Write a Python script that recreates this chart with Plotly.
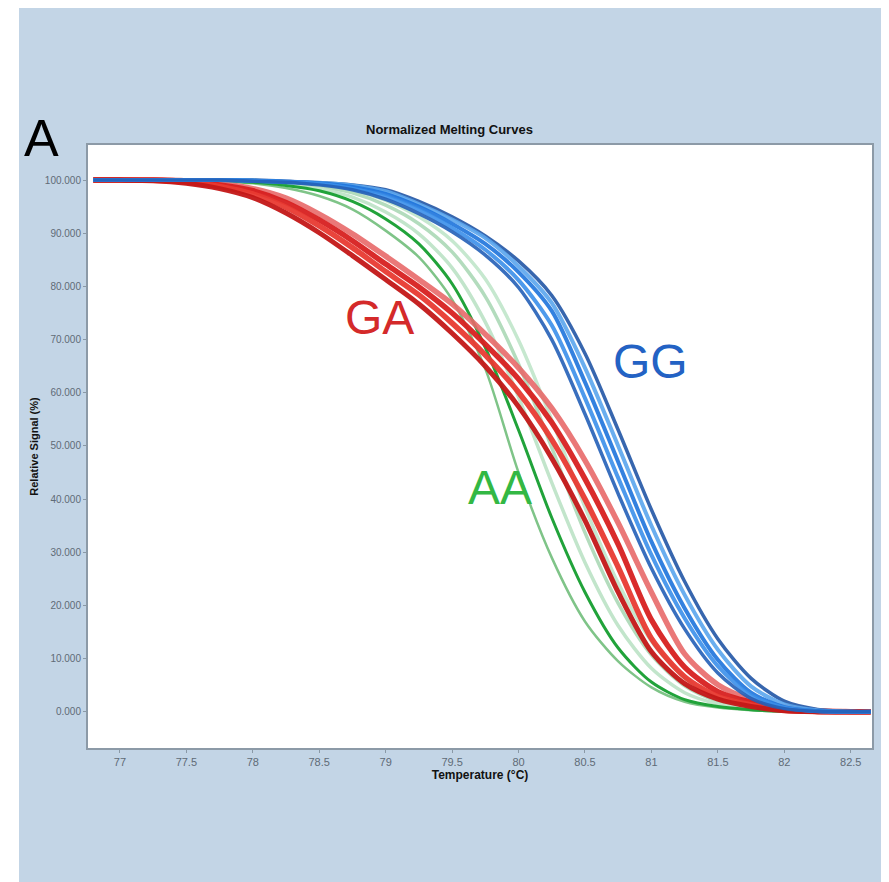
import plotly.graph_objects as go

# ---------------- data ----------------
temps = [76.8, 77.0, 77.25, 77.5, 77.75, 78.0, 78.25, 78.5, 78.75, 79.0, 79.25, 79.5,
         79.75, 80.0, 80.25, 80.5, 80.75, 81.0, 81.25, 81.5, 81.75, 82.0, 82.25, 82.5, 82.65]

# AA genotype (green)
aa_pale_1 = [100, 100, 100, 100, 100, 99.8, 99.4, 98.4, 96.8, 94.0, 89.9, 83.5, 73.3, 59.2, 43.1, 28.1, 16.2, 8.2, 3.6, 1.5, 0.6, 0.2, 0.04, 0, 0]
aa_pale_2 = [100, 100, 100, 100, 100, 99.8, 99.5, 98.8, 97.6, 95.3, 91.8, 86.5, 78.1, 65.4, 49.7, 33.7, 20.4, 10.7, 4.9, 2.0, 0.9, 0.3, 0.08, 0, 0]
aa_pale_3 = [100, 100, 100, 100, 100, 99.95, 99.6, 99.1, 98.1, 96.2, 93.1, 88.6, 81.4, 69.9, 54.9, 38.5, 24.2, 13.3, 6.4, 2.7, 1.2, 0.5, 0.14, 0.02, 0]
aa_left = [100, 100, 100, 100, 99.8, 99.4, 98.5, 97.0, 94.5, 90.5, 85.5, 77.5, 64.5, 45.0, 29.0, 17.0, 9.5, 4.6, 1.9, 0.8, 0.3, 0.1, 0, 0, 0]
aa_dark = [100, 100, 100, 100, 99.9, 99.6, 99.0, 98.0, 96.0, 92.7, 88.0, 80.5, 68.5, 53.0, 36.5, 22.5, 12.0, 5.6, 2.3, 1.0, 0.4, 0.1, 0, 0, 0]

# GA genotype (red)
ga_1 = [100, 100, 99.9, 99.4, 98.4, 96.7, 93.8, 90.1, 85.8, 81.3, 76.7, 71.2, 65.0, 57.4, 47.7, 36.0, 22.5, 11.3, 5.3, 2.4, 1.0, 0.2, 0.03, 0, 0]
ga_2 = [100, 100, 99.95, 99.6, 98.8, 97.4, 94.9, 91.4, 87.3, 82.8, 78.4, 73.1, 67.1, 60.1, 51.2, 40.0, 27.2, 13.8, 6.6, 2.9, 1.3, 0.3, 0.04, 0, 0]
ga_3 = [100, 100, 100, 99.75, 99.1, 98.0, 95.8, 92.5, 88.6, 84.2, 79.9, 75.0, 69.1, 62.6, 54.4, 43.8, 31.5, 17.3, 8.4, 3.8, 1.8, 0.6, 0.1, 0.01, 0]
ga_4 = [100, 100, 100, 99.85, 99.3, 98.4, 96.6, 93.6, 89.9, 85.7, 81.3, 76.7, 71.0, 64.7, 57.1, 47.3, 35.5, 22.5, 10.9, 5.1, 2.3, 0.9, 0.2, 0.03, 0]

# GG genotype (blue)
gg_1 = [100, 100, 100, 100, 100, 99.8, 99.6, 99.1, 98.2, 96.4, 93.7, 90.3, 85.9, 79.8, 70.0, 56.0, 41.0, 27.0, 15.6, 7.3, 2.5, 0.6, 0.1, 0, 0]
gg_2 = [100, 100, 100, 100, 100, 99.9, 99.6, 99.3, 98.4, 96.9, 94.4, 91.0, 86.9, 81.2, 72.7, 59.0, 44.0, 29.5, 17.6, 8.6, 3.1, 0.8, 0.1, 0, 0]
gg_3 = [100, 100, 100, 100, 100, 99.9, 99.7, 99.4, 98.7, 97.4, 95.0, 91.8, 88.0, 82.7, 75.4, 62.0, 47.0, 32.0, 19.5, 9.8, 3.6, 0.9, 0.15, 0, 0]
gg_4 = [100, 100, 100, 100, 100, 99.9, 99.7, 99.5, 99.0, 97.9, 95.5, 92.6, 89.1, 83.8, 76.9, 64.7, 50.0, 35.0, 22.0, 11.7, 4.8, 1.4, 0.3, 0, 0]
gg_5 = [100, 100, 100, 100, 100, 100, 99.8, 99.5, 99.1, 98.2, 96.0, 93.1, 89.5, 84.8, 78.3, 67.4, 53.0, 38.0, 24.5, 13.7, 6.3, 2.0, 0.45, 0.06, 0]

x_tick_values = [77, 77.5, 78, 78.5, 79, 79.5, 80, 80.5, 81, 81.5, 82, 82.5]
x_tick_labels = ["77", "77.5", "78", "78.5", "79", "79.5", "80", "80.5", "81", "81.5", "82", "82.5"]
y_tick_values = [0, 10, 20, 30, 40, 50, 60, 70, 80, 90, 100]
y_tick_labels = ["0.000", "10.000", "20.000", "30.000", "40.000", "50.000",
                 "60.000", "70.000", "80.000", "90.000", "100.000"]

# ---------------- figure ----------------
FONT = "Liberation Sans, Arial, sans-serif"
fig = go.Figure()

series = [
    (aa_pale_3, "#c6e8cf", 3.5, 1.0),
    (aa_pale_2, "#b3dcbd", 3.5, 1.0),
    (aa_pale_1, "#c2e5cb", 3.5, 1.0),
    (aa_left, "#7fc488", 2.5, 1.0),
    (aa_dark, "#21a33a", 3.0, 1.0),
    (ga_4, "#e86a6a", 5.5, 0.9),
    (ga_3, "#d82020", 5.5, 0.95),
    (ga_2, "#e83a32", 5.5, 0.95),
    (ga_1, "#c41818", 5.0, 0.95),
    (gg_5, "#2256a6", 3.5, 0.9),
    (gg_4, "#5aa6ee", 4.0, 0.9),
    (gg_3, "#1e74dc", 4.0, 0.9),
    (gg_2, "#3b90ea", 4.0, 0.9),
    (gg_1, "#2460b8", 3.5, 0.9),
]
for ys, color, w, op in series:
    fig.add_trace(go.Scatter(
        x=temps, y=ys, mode="lines",
        line=dict(color=color, width=w, shape="spline", smoothing=0.8),
        opacity=op, showlegend=False, hoverinfo="skip"))

# the page body adds an 8px white margin on the left and top
fig.update_layout(
    width=881, height=874,
    margin=dict(l=80, r=17, t=137, b=134),
    paper_bgcolor="#c3d5e6",
    plot_bgcolor="#ffffff",
    font=dict(family=FONT),
    xaxis=dict(
        range=[76.76, 82.66], tickvals=x_tick_values, ticktext=x_tick_labels,
        ticks="outside", ticklen=3, tickcolor="#8a99a6",
        showgrid=False, zeroline=False,
        showline=True, linecolor="#8c9aa7", linewidth=2, mirror=True,
        tickfont=dict(size=11, color="#5f6b76", family=FONT),
        title=dict(text="<b>Temperature (°C)</b>", font=dict(size=12, color="#111111", family=FONT), standoff=0),
    ),
    yaxis=dict(
        range=[-6.8, 106.6], tickvals=y_tick_values, ticktext=y_tick_labels,
        ticks="outside", ticklen=3, tickcolor="#8a99a6",
        showgrid=False, zeroline=False,
        showline=True, linecolor="#8c9aa7", linewidth=2, mirror=True,
        tickfont=dict(size=10, color="#5f6b76", family=FONT),
        title=dict(text="<b>Relative Signal (%)</b>", font=dict(size=11, color="#111111", family=FONT), standoff=4),
    ),
    shapes=[
        dict(type="rect", xref="paper", yref="paper", x0=-0.2, x1=-0.0880, y0=-0.3, y1=1.3,
             fillcolor="#ffffff", line=dict(width=0), layer="below"),
    ],
    annotations=[
        dict(text="<b>Normalized Melting Curves</b>", xref="paper", yref="paper", x=0.4617, y=1.0265,
             xanchor="center", yanchor="middle",
             showarrow=False, font=dict(size=13, color="#111111", family=FONT)),
        dict(text="A", xref="paper", yref="paper", x=-0.0587, y=1.0116,
             xanchor="center", yanchor="middle",
             showarrow=False, font=dict(size=52, color="#000000", family=FONT)),
        dict(text="GA", xref="x", yref="y", x=78.956, y=74.1, xanchor="center", yanchor="middle",
             showarrow=False, font=dict(size=48, color="#d42a2a", family=FONT)),
        dict(text="GG", xref="x", yref="y", x=80.995, y=65.8, xanchor="center", yanchor="middle",
             showarrow=False, font=dict(size=48, color="#2362c4", family=FONT)),
        dict(text="AA", xref="x", yref="y", x=79.86, y=42.1, xanchor="center", yanchor="middle",
             showarrow=False, font=dict(size=48, color="#33b844", family=FONT)),
    ],
)

fig.write_html("out.html")
